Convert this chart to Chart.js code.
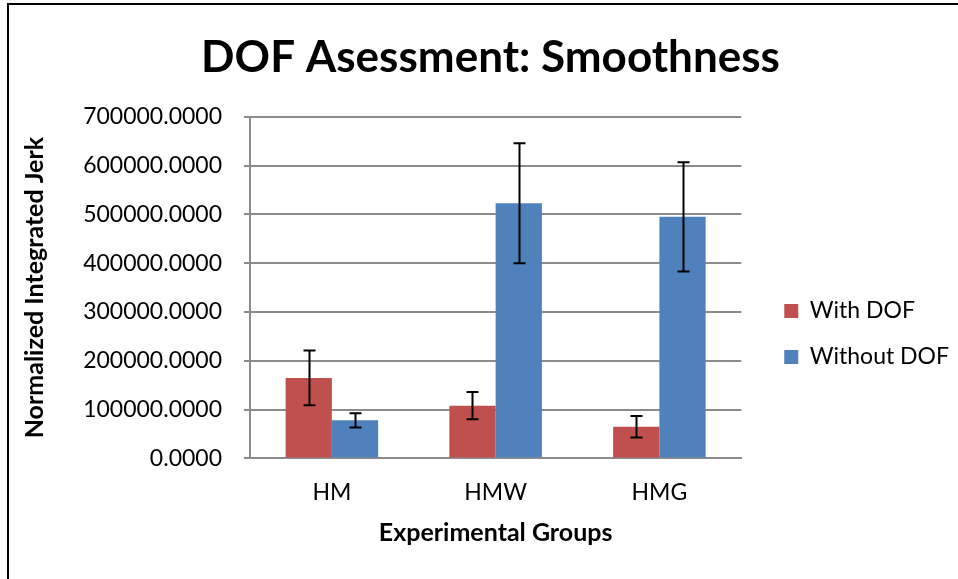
<!DOCTYPE html>
<html>
<head>
<meta charset="utf-8">
<script src="https://cdn.jsdelivr.net/npm/chart.js@4/dist/chart.umd.min.js"></script>
<style>
  html, body { margin: 0; padding: 0; background: #fff; }
  #wrap { position: relative; width: 958px; height: 579px; }
  canvas { display: block; }
</style>
</head>
<body>
<div id="wrap"><canvas id="c" width="958" height="579"></canvas></div>
<script>
const categories = ['HM', 'HMW', 'HMG'];
const withDOF = [165000, 108000, 65000];
const withDOFErr = [56000, 28000, 22000];
const withoutDOF = [78000, 523000, 495000];
const withoutDOFErr = [14500, 123000, 112000];
const yTicks = [0, 100000, 200000, 300000, 400000, 500000, 600000, 700000];

const FONT = 'Lato, "Open Sans", sans-serif';
const GRID = '#8c8c8c';

const errorBars = {
  id: 'errorBars',
  afterDatasetsDraw(chart) {
    const ctx = chart.ctx;
    const y = chart.scales.y;
    const errs = [withDOFErr, withoutDOFErr];
    ctx.save();
    ctx.strokeStyle = '#000';
    ctx.lineWidth = 2;
    chart.data.datasets.forEach((ds, di) => {
      const meta = chart.getDatasetMeta(di);
      meta.data.forEach((el, i) => {
        const v = ds.data[i], e = errs[di][i];
        const top = y.getPixelForValue(v + e);
        const bot = y.getPixelForValue(v - e);
        const x = Math.round(el.x) + 0.5;
        ctx.beginPath();
        ctx.moveTo(x, top); ctx.lineTo(x, bot);
        ctx.moveTo(x - 6, top); ctx.lineTo(x + 6, top);
        ctx.moveTo(x - 6, bot); ctx.lineTo(x + 6, bot);
        ctx.stroke();
      });
    });
    ctx.restore();
  }
};

const frame = {
  id: 'frame',
  beforeDraw(chart) {
    const ctx = chart.ctx;
    ctx.save();
    ctx.fillStyle = '#fff';
    ctx.fillRect(0, 0, chart.width, chart.height);
    ctx.restore();
  },
  afterDraw(chart) {
    const ctx = chart.ctx;
    ctx.save();
    ctx.strokeStyle = '#000';
    ctx.lineWidth = 2;
    ctx.beginPath();
    ctx.moveTo(8, chart.height);
    ctx.lineTo(8, 4);
    ctx.lineTo(chart.width, 4);
    ctx.stroke();
    ctx.restore();
  }
};

const LEG_PAD = 23;
const legendShift = {
  id: 'legendShift',
  afterLayout(chart) {
    const lg = chart.legend;
    const w = lg.right - lg.left;
    lg.left = chart.chartArea.right + 43 - LEG_PAD;
    lg.right = lg.left + w;
    lg.top += 60; lg.bottom += 60;
    const tb = chart.titleBlock;
    if (tb) { tb.left += 14; tb.right += 14; }
  }
};

new Chart(document.getElementById('c'), {
  type: 'bar',
  data: {
    labels: categories,
    datasets: [
      { label: 'With DOF', data: withDOF, backgroundColor: '#C0504D', borderWidth: 0 },
      { label: 'Without DOF', data: withoutDOF, backgroundColor: '#4F81BD', borderWidth: 0 }
    ]
  },
  options: {
    responsive: false,
    animation: false,
    devicePixelRatio: 1,
    layout: { padding: { left: 14, right: 19, top: 0, bottom: 31 } },
    datasets: { bar: { categoryPercentage: 0.565, barPercentage: 1.0 } },
    plugins: {
      title: {
        display: true,
        text: 'DOF Asessment: Smoothness',
        color: '#000',
        font: { family: FONT, size: 44, weight: 'bold' },
        padding: { top: 31, bottom: 33 }
      },
      legend: {
        position: 'right',
        labels: {
          color: '#000',
          font: { family: FONT, size: 23 },
          boxWidth: 14, boxHeight: 14,
          padding: LEG_PAD
        }
      },
      tooltip: { enabled: false }
    },
    scales: {
      x: {
        grid: { display: false, drawTicks: false },
        border: { display: true, color: GRID, width: 2 },
        ticks: { color: '#000', font: { family: FONT, size: 23 }, padding: 20 },
        title: {
          display: true, text: 'Experimental Groups', color: '#000',
          font: { family: FONT, size: 25, weight: 'bold' },
          padding: { top: -8, bottom: 0 }
        }
      },
      y: {
        min: 0, max: 700000,
        afterBuildTicks(scale) { scale.ticks = yTicks.map(v => ({ value: v })); },
        afterFit(scale) { scale.width = 236; },
        grid: { color: GRID, lineWidth: 2, drawTicks: true, tickLength: 6, tickColor: GRID },
        border: { display: true, color: GRID, width: 2 },
        ticks: {
          color: '#000', font: { family: FONT, size: 23 }, padding: 22,
          callback: v => Number(v).toFixed(4)
        },
        title: {
          display: true, text: 'Normalized Integrated Jerk', color: '#000',
          font: { family: FONT, size: 25, weight: 'bold' },
          padding: { top: 6, bottom: 0 }
        }
      }
    }
  },
  plugins: [frame, errorBars, legendShift]
});
</script>
</body>
</html>
